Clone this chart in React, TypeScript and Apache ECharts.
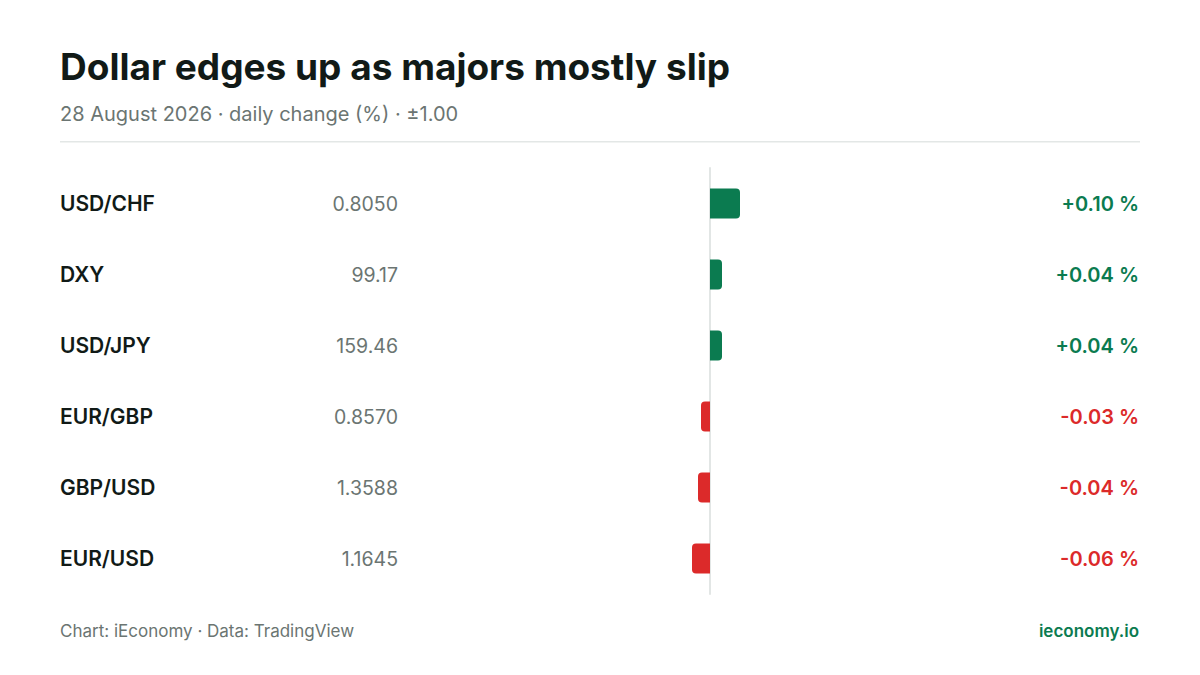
import React, { useEffect, useRef } from "react";
import * as echarts from "echarts";

const pairs = ["USD/CHF", "DXY", "USD/JPY", "EUR/GBP", "GBP/USD", "EUR/USD"];
const prices = ["0.8050", "99.17", "159.46", "0.8570", "1.3588", "1.1645"];
const changes = [0.1, 0.04, 0.04, -0.03, -0.04, -0.06];

const GREEN = "#0b7b50";
const RED = "#dc2a2a";
const FONT = "Inter, 'Noto Sans', sans-serif";

const fmtChange = (v: number) => (v > 0 ? "+" : "-") + Math.abs(v).toFixed(2) + " %";

const App: React.FC = () => {
  const chartRef = useRef<HTMLDivElement>(null);

  useEffect(() => {
    document.body.style.margin = "0";
    if (!chartRef.current) return;
    const chart = echarts.init(chartRef.current, null, { renderer: "svg" });

    const option = {
      animation: false,
      backgroundColor: "#ffffff",
      textStyle: { fontFamily: FONT },
      grid: { left: 410, right: 190, top: 168, bottom: 81 },
      xAxis: {
        type: "value",
        min: -1,
        max: 1,
        show: false,
      },
      yAxis: [
        {
          type: "category",
          data: pairs,
          inverse: true,
          axisTick: { show: false },
          axisLine: { show: true, onZero: true, lineStyle: { color: "#e2e6e5", width: 2 } },
          axisLabel: {
            margin: 12,
            formatter: (name: string, i: number) => `{n|${name}}{p|${prices[i]}}`,
            rich: {
              n: { width: 258, align: "left", fontSize: 21, fontWeight: 600, color: "#111a17", fontFamily: FONT },
              p: { width: 80, align: "right", fontSize: 19.5, color: "#6b7572", fontFamily: FONT },
            },
          },
        },
        {
          type: "category",
          data: pairs,
          inverse: true,
          position: "right",
          axisTick: { show: false },
          axisLine: { show: false },
          axisLabel: {
            margin: 129,
            align: "right",
            formatter: (_: string, i: number) =>
              changes[i] >= 0 ? `{g|${fmtChange(changes[i])}}` : `{r|${fmtChange(changes[i])}}`,
            rich: {
              g: { fontSize: 20, fontWeight: 600, color: GREEN, fontFamily: FONT },
              r: { fontSize: 20, fontWeight: 600, color: RED, fontFamily: FONT },
            },
          },
        },
      ],
      series: [
        {
          type: "bar",
          barWidth: 30,
          data: changes.map((v) => ({
            value: v,
            itemStyle: {
              color: v >= 0 ? GREEN : RED,
              borderRadius: v >= 0 ? [0, 4, 4, 0] : [4, 0, 0, 4],
            },
          })),
        },
      ],
      graphic: [
        {
          type: "text",
          x: 60,
          y: 66,
          style: {
            text: "Dollar edges up as majors mostly slip",
            fontSize: 37,
            fontWeight: 700,
            fill: "#111a17",
            fontFamily: FONT,
            textVerticalAlign: "middle",
          },
        },
        {
          type: "text",
          x: 60,
          y: 114,
          style: {
            text: "28 August 2026 · daily change (%) · ±1.00",
            fontSize: 20,
            fill: "#6b7572",
            fontFamily: FONT,
            textVerticalAlign: "middle",
          },
        },
        {
          type: "rect",
          shape: { x: 60, y: 141, width: 1080, height: 1.5 },
          style: { fill: "#e3e7e6" },
        },
        {
          type: "text",
          x: 60,
          y: 631,
          style: {
            text: "Chart: iEconomy · Data: TradingView",
            fontSize: 17,
            fill: "#6b7572",
            fontFamily: FONT,
            textVerticalAlign: "middle",
          },
        },
        {
          type: "text",
          x: 1139,
          y: 631,
          style: {
            text: "ieconomy.io",
            fontSize: 17,
            fontWeight: 600,
            fill: GREEN,
            fontFamily: FONT,
            textAlign: "right",
            textVerticalAlign: "middle",
          },
        },
      ],
    };

    chart.setOption(option);
    return () => {
      chart.dispose();
    };
  }, []);

  return <div ref={chartRef} style={{ width: "1200px", height: "675px" }} />;
};

export default App;
